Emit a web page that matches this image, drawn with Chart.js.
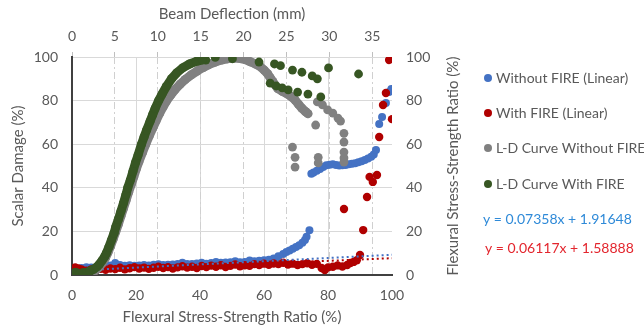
<!DOCTYPE html>
<html><head><meta charset="utf-8">
<script src="https://cdn.jsdelivr.net/npm/chart.js@4.4.0/dist/chart.umd.min.js"></script>
<style>html,body{margin:0;padding:0;background:#fff;}#wrap{width:644px;height:326px;position:relative;}</style>
</head><body><div id="wrap"><canvas id="c" width="644" height="326"></canvas></div>
<script>
// ---- Data ----
const seriesNames = ["Without FIRE (Linear)", "With FIRE (Linear)", "L-D Curve Without FIRE", "L-D Curve With FIRE"];
const equations = ["y = 0.07358x + 1.91648", "y = 0.06117x + 1.58888"];
const axisTitles = {bottom: "Flexural Stress-Strength Ratio (%)", top: "Beam Deflection (mm)", left: "Scalar Damage (%)", right: "Flexural Stress-Strength Ratio (%)"};

// Scalar damage vs flexural stress-strength ratio
const withoutFireRatio = [0,1.5,3,4.5,6,7.5,9,10.5,12,13.5,15,16.5,18,19.5,21,22.5,24,25.5,27,28.5,30,31.5,33,34.5,36,37.5,39,40.5,42,43.5,45,46.5,48,49.5,51,52.5,54,55.5,57,58.5,60,61.5,63,64.5,66,67,68,69,70,71,72,72.8,73.3,74.2,74.8,75.5,76.5,77.5,78.5,79.5,80.5,81.5,82.5,83.5,84.5,85.5,86.5,87.5,88.5,89.5,90.5,91.5,92.5,93.5,94.3,95,96,96.9,98.1,99.1,99.8];
const withoutFireDamage = [2.2,2.8,3.2,3.5,3.4,3.6,3.8,4.0,4.4,5.5,4.6,4.3,4.5,4.2,4.4,4.6,4.4,4.7,4.9,4.6,4.7,4.8,5.0,5.6,5.0,5.1,5.3,5.6,5.2,5.5,6.0,5.6,5.7,5.9,6.3,5.8,6.0,6.6,6.3,6.5,6.8,7.0,7.6,8.6,9.6,10.5,11.2,12.0,12.8,13.7,14.8,16.0,17.5,20.5,46.5,47.0,47.8,48.6,49.5,50.3,50.6,50.8,50.5,50.2,50.3,50.5,50.8,51.0,51.3,51.7,52.2,52.8,53.4,54.2,55.3,57.3,69.3,72.5,78.9,84.0,85.3];
const withFireRatio = [0,1,2,3,4.5,6,7.5,9,10.5,12,13.5,15,16.5,18,19.5,21,22.5,24,25.5,27,28.5,30,31.5,33,34.5,36,37.5,39,40.5,42,43.5,45,46.5,48,49.5,51,52.5,54,55.5,57,58.5,60,61.5,63,64.5,66,67.5,69,70.5,72,73.5,75,76.5,78,79,80,81.5,83,84.5,86,87,88,89,90,85,91,92.2,93,94,95.3,96,97.2,98.1,99.1,100];
const withFireDamage = [2.8,3.5,3.0,2.5,2.0,2.6,2.2,2.8,2.4,3.0,2.7,3.3,2.6,3.1,3.6,3.0,3.4,2.8,3.3,3.8,3.2,3.6,3.0,3.5,4.0,3.4,3.8,3.2,4.1,3.6,4.3,3.8,4.5,3.7,4.2,4.8,4.0,4.5,4.2,5.0,4.6,5.2,4.7,5.3,5.0,5.6,4.8,5.2,4.6,5.0,5.4,4.7,5.1,3.2,2.3,3.5,3.8,4.4,3.9,4.6,5.5,6.0,6.8,9.2,30.3,20.6,35.8,45.0,42.7,45.9,63.3,78.0,83.5,98.6,71.5];

// Linear trendlines (end points)
const trendRatio = [0, 100];
const trendWithout = [1.92, 9.27];
const trendWith = [1.59, 7.71];

// Load-deflection curves: deflection (mm) vs ratio (%)
const ldWithoutDefl = [0,0.6,1.2,1.7,2.2,2.7,3.1,3.5,3.9,4.2,4.5,4.8,5.1,5.4,5.7,6.0,6.3,6.6,6.9,7.2,7.5,7.8,8.2,8.6,9.0,9.4,9.8,10.2,10.6,11.0,11.5,12.0,12.6,13.2,13.9,14.6,15.3,16.0,16.7,17.4,18.1,18.8,19.5,20.2,20.8,21.4,21.9,22.4,22.8,23.1,23.4,23.7,24.0,24.5,25.0,25.5,26.0,26.4,26.8,27.2,27.5];
const ldWithoutRatio = [0,0.3,0.2,0.5,1,2,3.4,5.3,7.8,10.4,13.3,16.5,19.8,23.3,27,30.6,34.2,38,41.5,45,48.7,52,56,60,63.8,67.3,70.7,74,77,79.7,82.5,85,87.5,89.7,91.8,93.6,95.2,96.6,97.7,98.6,99.2,99.5,99.4,98.8,97.8,96.8,95.7,94,92.3,90.5,88.8,87,85.5,84.3,83.3,82,80.3,78.3,76.5,75,74];
const ldWithoutScatterDefl = [28.4,28.6,29.2,29.8,30.4,31.0,31.3,31.7,31.7,31.7,31.7,31.7,25.7,26.0,26.0,28.7,28.7];
const ldWithoutScatterRatio = [68.8,79.4,78,75.7,74.3,72,70.6,65,61,56.4,53.7,51.8,58.7,54,49.5,54,51.4];
const ldWithDefl = [0,0.4,0.9,1.3,1.7,2.1,2.5,2.9,3.2,3.5,3.8,4.0,4.3,4.6,4.9,5.1,5.4,5.7,6.0,6.3,6.5,6.8,7.1,7.4,7.7,8.1,8.4,8.7,9.1,9.4,9.7,10.1,10.5,11.0,11.6,12.2,12.9,13.7,14.5,15.2];
const ldWithRatio = [0.5,1.2,0.6,1,1.2,1.8,2.6,3.7,5,6.6,8.4,10,12.8,16,19.2,22,25.5,29.2,33,37,40,43.5,47.5,51.5,55,60,63.3,66.5,70.5,73.5,76.5,80,83,86.5,90,92.7,95,96.8,98,98.7];
const ldWithScatterDefl = [15.6,16.7,18.7,21.8,23.6,24.3,25.7,26.8,28.0,28.6,29.9,33.4,23.1,23.8,24.5,25.2,26.3,27.5,29.0];
const ldWithScatterRatio = [98.6,99.8,99.2,97.7,96.8,96,94,93,91.3,90,95,92.2,88,86.7,85.8,84.9,83.9,83,81.7];

const colors = {blue: "#4472c4", red: "#b00000", gray: "#808080", green: "#375623", blueEq: "#2f8ad8", redEq: "#e3262e", text: "#595959"};

const pts = (xs, ys) => xs.map((x, i) => ({x: x, y: ys[i]}));

const overlay = {
  id: "overlay",
  afterDraw(chart) {
    const ctx = chart.ctx;
    ctx.save();
    ctx.fillStyle = colors.text;
    ctx.font = "15px Lato";
    ctx.textAlign = "center";
    ctx.textBaseline = "middle";
    ctx.translate(453, (chart.chartArea.top + chart.chartArea.bottom) / 2);
    ctx.rotate(-Math.PI / 2);
    ctx.fillText(axisTitles.right, 0, 0);
    ctx.restore();

    ctx.save();
    const lc = [colors.blue, colors.red, colors.gray, colors.green];
    const ly = [78, 113, 148, 184];
    ctx.font = "14px Lato";
    ctx.textBaseline = "middle";
    ctx.textAlign = "left";
    seriesNames.forEach((n, i) => {
      ctx.fillStyle = lc[i];
      ctx.beginPath(); ctx.arc(488, ly[i], 4, 0, Math.PI * 2); ctx.fill();
      ctx.fillStyle = colors.text;
      ctx.fillText(n, 496, ly[i]);
    });
    ctx.fillStyle = colors.blueEq; ctx.fillText(equations[0], 483, 219);
    ctx.fillStyle = colors.redEq; ctx.fillText(equations[1], 485, 248);
    ctx.restore();
  }
};

const font = (s) => ({family: "Lato", size: s});

new Chart(document.getElementById("c"), {
  type: "scatter",
  data: {
    datasets: [
      {label: seriesNames[3], data: pts(ldWithDefl, ldWithRatio), xAxisID: "x2", yAxisID: "y2", showLine: true, borderColor: colors.green, backgroundColor: colors.green, borderWidth: 9, pointRadius: 4.5, pointBorderWidth: 0, borderCapStyle: "round", borderJoinStyle: "round", tension: 0, order: 0},
      {label: seriesNames[3] + " ", data: pts(ldWithScatterDefl, ldWithScatterRatio), xAxisID: "x2", yAxisID: "y2", backgroundColor: colors.green, borderWidth: 0, pointRadius: 4.4, order: 0},
      {label: seriesNames[2], data: pts(ldWithoutDefl, ldWithoutRatio), xAxisID: "x2", yAxisID: "y2", showLine: true, borderColor: colors.gray, backgroundColor: colors.gray, borderWidth: 9, pointRadius: 4.5, pointBorderWidth: 0, borderCapStyle: "round", borderJoinStyle: "round", tension: 0, order: 1},
      {label: seriesNames[2] + " ", data: pts(ldWithoutScatterDefl, ldWithoutScatterRatio), xAxisID: "x2", yAxisID: "y2", backgroundColor: colors.gray, borderWidth: 0, pointRadius: 4.4, order: 1},
      {label: "trend without", data: pts(trendRatio, trendWithout), showLine: true, borderColor: colors.blue, borderWidth: 2, borderDash: [2, 3], pointRadius: 0, order: 2},
      {label: "trend with", data: pts(trendRatio, trendWith), showLine: true, borderColor: colors.red, borderWidth: 2, borderDash: [2, 3], pointRadius: 0, order: 2},
      {label: seriesNames[1], data: pts(withFireRatio, withFireDamage), backgroundColor: colors.red, borderWidth: 0, pointRadius: 4.2, order: 3},
      {label: seriesNames[0], data: pts(withoutFireRatio, withoutFireDamage), backgroundColor: colors.blue, borderWidth: 0, pointRadius: 4.0, order: 4}
    ]
  },
  options: {
    responsive: false, animation: false, devicePixelRatio: 1,
    layout: {padding: {left: 0, top: 0, bottom: 0, right: 172}},
    plugins: {legend: {display: false}, tooltip: {enabled: false}},
    scales: {
      x: {type: "linear", position: "bottom", min: 0, max: 100,
        ticks: {stepSize: 20, font: font(14), color: colors.text, padding: 12},
        grid: {color: (c) => (c.tick && (c.tick.value === 0 || c.tick.value === 100)) ? "rgba(0,0,0,0)" : "#d9d9d9", drawTicks: false},
        border: {color: "#404040", width: 2},
        title: {display: true, text: axisTitles.bottom, font: font(15), color: colors.text, padding: {top: 0, bottom: 0}},
        afterFit: (s) => { s.height = 51; }},
      x2: {type: "linear", position: "top", min: 0, max: 37.3,
        ticks: {stepSize: 5, includeBounds: false, font: font(14), color: colors.text, padding: 7},
        afterBuildTicks: (s) => { s.ticks = s.ticks.filter(t => t.value % 5 === 0); },
        grid: {color: (c) => (c.tick && c.tick.value === 0) ? "rgba(0,0,0,0)" : "#d0d0d0", drawTicks: true, tickLength: 5, tickColor: "#bfbfbf"},
        border: {display: false, dash: [7, 3, 2, 3]},
        title: {display: true, text: axisTitles.top, font: font(15), color: colors.text, padding: {top: 5, bottom: 0}},
        afterFit: (s) => { s.height = 57; }},
      y: {type: "linear", position: "left", min: 0, max: 100,
        ticks: {stepSize: 20, font: font(14), color: colors.text, padding: 14},
        grid: {color: (c) => (c.tick && c.tick.value === 0) ? "rgba(0,0,0,0)" : "#d9d9d9", drawTicks: false},
        border: {color: "#404040", width: 2},
        title: {display: true, text: axisTitles.left, font: font(15), color: colors.text, padding: {top: 9, bottom: 0}},
        afterFit: (s) => { s.width = 72; }},
      y2: {type: "linear", position: "right", min: 0, max: 100,
        ticks: {stepSize: 20, font: font(14), color: colors.text, padding: 14},
        grid: {drawOnChartArea: false, drawTicks: false},
        border: {display: false},
        title: {display: false},
        afterFit: (s) => { s.width = 80; }}
    }
  },
  plugins: [overlay]
});
</script>
</body></html>
